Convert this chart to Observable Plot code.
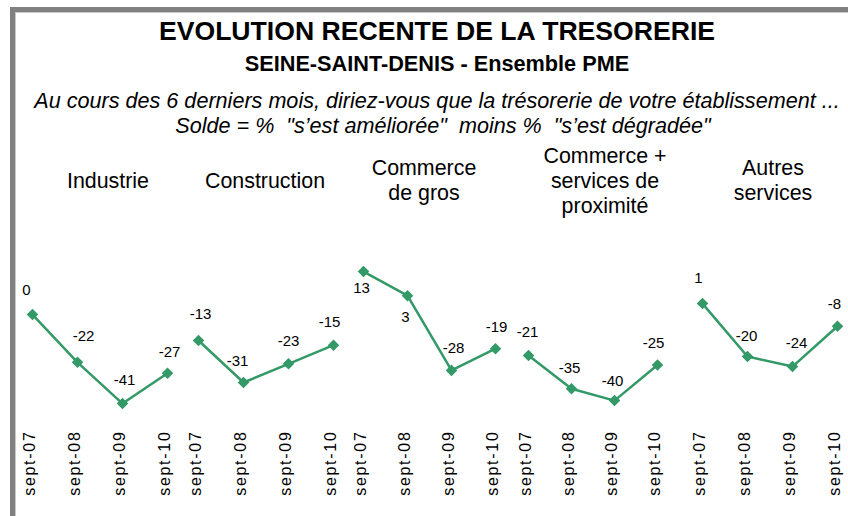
<!DOCTYPE html>
<html>
<head>
<meta charset="utf-8">
<script src="https://cdn.jsdelivr.net/npm/d3@7"></script>
<script src="https://cdn.jsdelivr.net/npm/@observablehq/plot@0.6"></script>
<style>
  body { margin: 0; background: #fff; }
  #chart { position: relative; width: 848px; height: 516px; overflow: hidden; background: #fff;
           font-family: Arial, "Liberation Sans", sans-serif; color: #000; }
  .frame1 { position: absolute; left: 10px; top: 7px; width: 1000px; height: 1000px;
            border-top: 5px solid #808080; border-left: 5px solid #808080; }
  .frame2 { position: absolute; left: 15px; top: 12px; width: 1000px; height: 1000px;
            border-top: 1px solid #c8c8c8; border-left: 1px solid #c8c8c8; }
  .t { position: absolute; white-space: pre; text-align: center; transform: translateX(-50%); }
  .title { font-size: 26.6px; font-weight: bold; line-height: 30px; top: 16px; }
  .sub { font-size: 21.7px; font-weight: bold; line-height: 24px; top: 52px; }
  .it { font-size: 21.6px; font-style: italic; line-height: 24px; }
  .sector { position: absolute; top: 140px; height: 82px; display: flex; align-items: center;
            justify-content: center; transform: translateX(-50%); white-space: pre; text-align: center;
            font-size: 21.4px; line-height: 25px; }
</style>
</head>
<body>
<div id="chart">
  <div class="frame1"></div>
  <div class="frame2"></div>
</div>
<script>
// ---- data ----
const months = ["sept-07", "sept-08", "sept-09", "sept-10"];
const sectors = ["Industrie", "Construction", "Commerce\nde gros", "Commerce +\nservices de\nproximité", "Autres\nservices"];
const industrie    = [0, -22, -41, -27];
const construction = [-13, -31, -23, -15];
const commerceGros = [13, 3, -28, -19];
const commerceProx = [-21, -35, -40, -25];
const autres       = [1, -20, -24, -8];
const series = [industrie, construction, commerceGros, commerceProx, autres];

const titleText = "EVOLUTION RECENTE DE LA TRESORERIE";
const subtitleText = "SEINE-SAINT-DENIS - Ensemble PME";
const noteLine1 = "Au cours des 6 derniers mois, diriez-vous que la trésorerie de votre établissement ...";
const noteLine2 = "Solde = %  \"s’est améliorée\"  moins %  \"s’est dégradée\"";

// ---- layout (not data) ----
const panelX = [[31, 168], [198, 333], [362, 496], [528, 657], [702, 837]];
const yDomains = [[-48.8, 24.9], [-47.3, 21.3], [-48.8, 17.6], [-48.4, 19.1], [-45.4, 18.1]];
const sectorX = [108, 265, 424, 605, 773];
const labelOffsets = [
  [[-6, -24], [6, -26], [2, -23], [2, -21]],
  [[2, -26], [-6, -21], [0, -23], [-4, -23]],
  [[-2, 17], [-2, 22], [2, -22], [1, -22]],
  [[-1, -23], [-2, -21], [-2, -19], [-4, -22]],
  [[-4, -25], [-1, -20], [4, -23], [-3, -22]]
];
const green = "#339966";
const fontFamily = "Arial, 'Liberation Sans', sans-serif";
const narrowFamily = "'Liberation Sans Narrow', 'Arial Narrow', Arial, 'Liberation Sans', sans-serif";

const chart = document.getElementById("chart");
function addText(cls, text, x, top) {
  const d = document.createElement("div");
  d.className = "t " + cls;
  d.textContent = text;
  d.style.left = x + "px";
  if (top !== undefined) d.style.top = top + "px";
  chart.appendChild(d);
}
addText("title", titleText, 437);
addText("sub", subtitleText, 437);
addText("it", noteLine1, 437, 89);
addText("it", noteLine2, 443, 114);

sectors.forEach((s, i) => {
  const d = document.createElement("div");
  d.className = "sector";
  d.textContent = s;
  d.style.left = sectorX[i] + "px";
  chart.appendChild(d);
});

const pad = 40;
series.forEach((vals, i) => {
  const [x0, x1] = panelX[i];
  const W = x1 - x0 + 2 * pad;
  const data = months.map((m, j) => ({month: m, value: vals[j]}));
  const plot = Plot.plot({
    width: W,
    height: 286,
    marginLeft: pad,
    marginRight: pad,
    marginTop: 30,
    marginBottom: 96,
    x: {type: "point", domain: months, padding: 0, axis: null},
    y: {domain: yDomains[i], axis: null},
    style: {background: "none", overflow: "visible", maxWidth: "none", fontFamily},
    marks: [
      Plot.line(data, {x: "month", y: "value", stroke: green, strokeWidth: 2.5}),
      Plot.dot(data, {x: "month", y: "value", symbol: "diamond2", r: 5.2, fill: green}),
      ...data.map((d, j) => Plot.text([d], {
        x: "month", y: "value", text: (e) => String(e.value),
        dx: labelOffsets[i][j][0], dy: labelOffsets[i][j][1],
        fontSize: 15, fontFamily: narrowFamily, fill: "#000"
      })),
      Plot.text(months, {
        x: (d) => d, text: (d) => d, frameAnchor: "bottom", rotate: -90,
        textAnchor: "end", dy: 10, dx: 2, fontSize: 16, fill: "#000"
      })
    ]
  });
  plot.style.position = "absolute";
  plot.style.left = (x0 - pad) + "px";
  plot.style.top = "230px";
  const groups = plot.querySelectorAll('g[aria-label="text"]');
  const last = groups[groups.length - 1];
  last.querySelectorAll("text").forEach((t) => t.style.letterSpacing = "1.7px");
  chart.appendChild(plot);
});
</script>
</body>
</html>
